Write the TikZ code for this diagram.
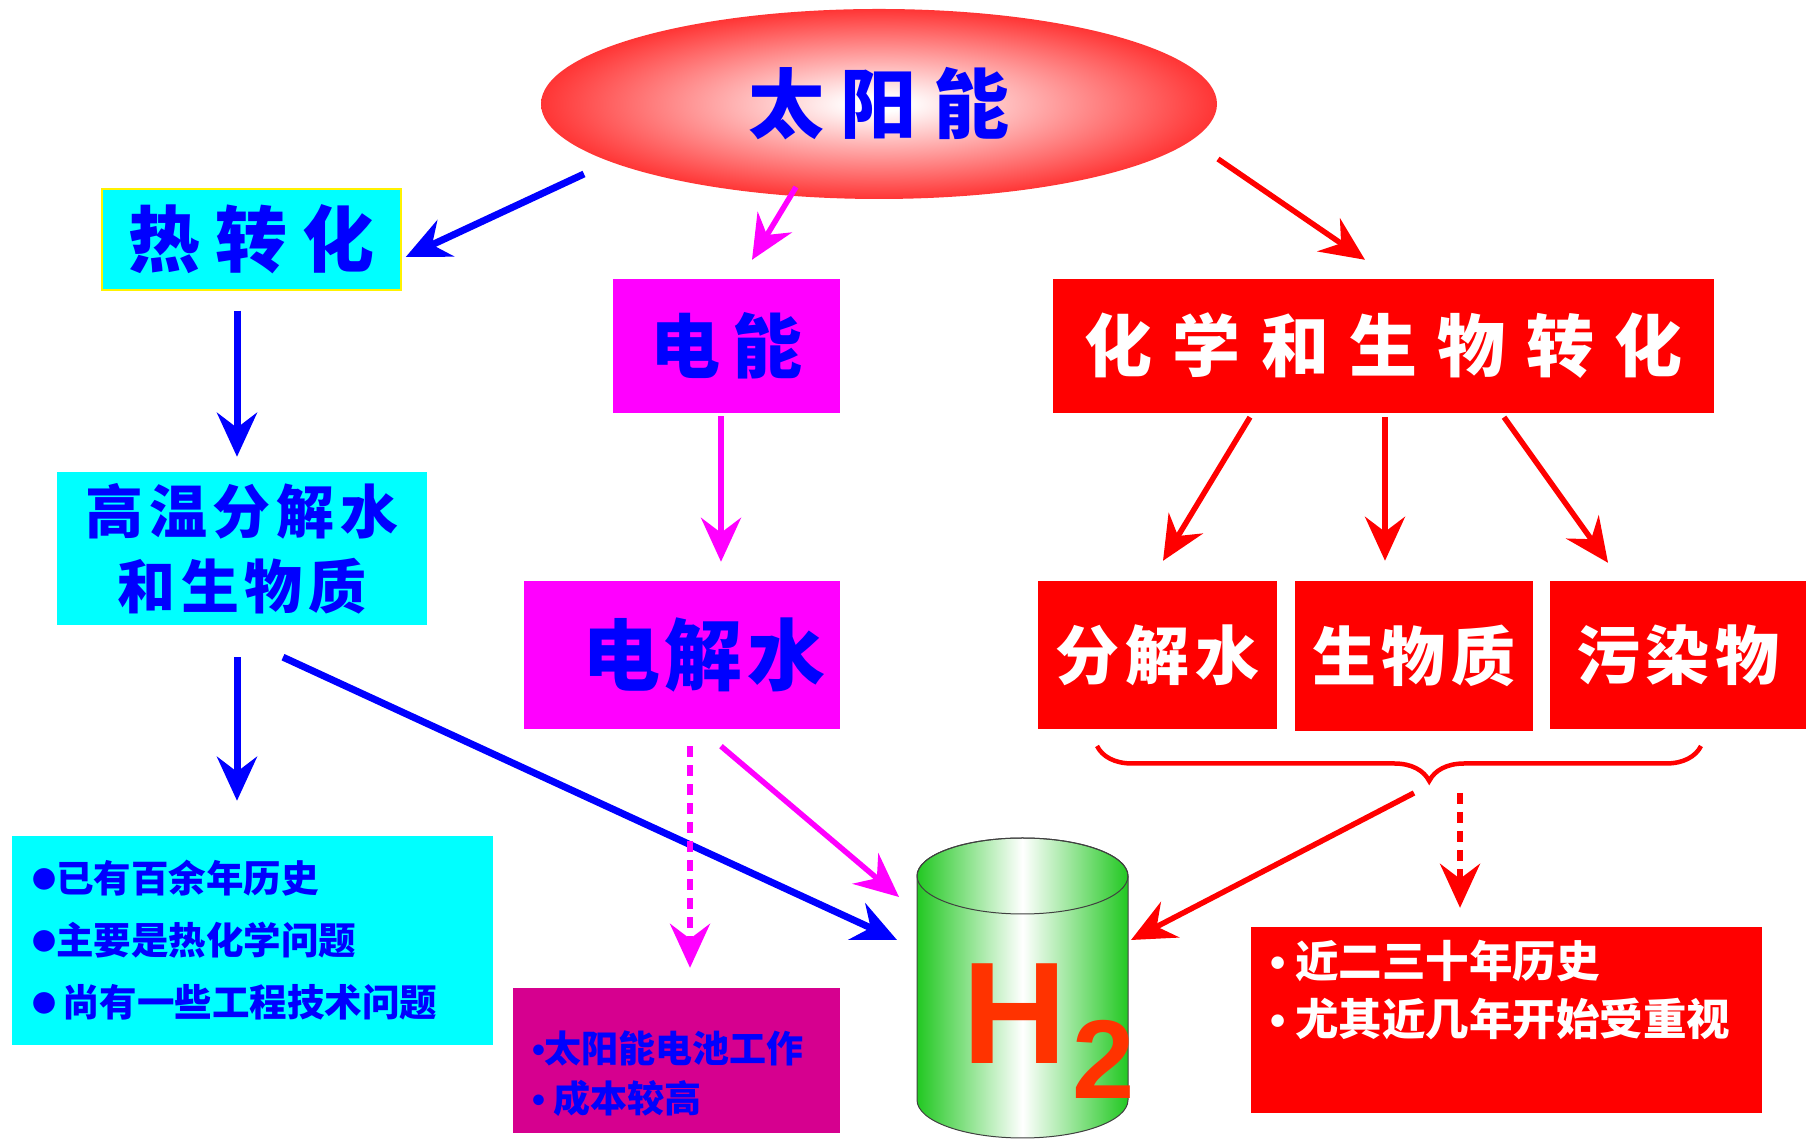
\documentclass[tikz,border=0pt]{standalone}
\usepackage{fontspec}
\setmainfont{Noto Sans CJK SC}
\newfontfamily\latin{Liberation Sans}
\usetikzlibrary{arrows.meta,shapes.geometric,decorations.pathreplacing,positioning}

\definecolor{aqua}{RGB}{0,255,255}
\definecolor{fuchsia}{RGB}{255,0,255}
\definecolor{plum}{RGB}{214,0,143}
\definecolor{tankgreen}{RGB}{34,200,34}
\definecolor{hcolor}{RGB}{255,51,0}

\newcommand\setfs[1]{\fontsize{#1}{#1}\selectfont}
\newcommand\spaced[1]{\addfontfeature{LetterSpace=#1}}
\newcommand\bigdot{\raisebox{4pt}{\setfs{24}●}}
\newcommand\smalldot{{\latin •}}

% white core fading out to red at the rim
\pgfdeclareradialshading{sunglow}{\pgfpoint{0bp}{0bp}}{%
  color(0bp)=(white); color(2bp)=(white); color(31bp)=(red); color(50bp)=(red)}

\tikzset{
sun/.style={
  ellipse,
  inner sep=0pt,
  minimum width=676pt,
  minimum height=190pt,
  shading=sunglow,
  text=blue,
  font=\bfseries\setfs{76}\spaced{22}},
box/.style={rectangle, inner sep=0pt, align=center},
bluebox/.style={box, fill=aqua, text=blue},
pinkbox/.style={box, fill=fuchsia, text=blue},
redbox/.style={box, fill=red, text=white},
note/.style={anchor=north west, inner sep=0pt, align=left},
line/.style={draw, line width=6pt, -{Stealth[length=44pt,width=40pt,inset=15pt]}},
dotline/.style={line, dash pattern=on 11pt off 8pt},
brace/.style={draw=red, line width=4.5pt,
  decorate, decoration={brace, amplitude=35pt, aspect=0.45}}
}

\begin{document}
\begin{tikzpicture}[x=1pt,y=1pt]
    \useasboundingbox (0,0) rectangle (1814,1139);

    \node [sun] (sun) at (879,1035) {太阳能};

    % thermal branch
    \node [bluebox, draw=yellow, line width=1.5pt, minimum width=299pt, minimum height=101pt,
      font=\bfseries\setfs{72}\spaced{21}] (heat) at (251.5,899.5) {热转化};
    \node [bluebox, minimum width=370pt, minimum height=153pt,
      font=\bfseries\fontsize{58}{75}\selectfont\spaced{10}] (htw) at (242,590.5) {高温分解水\\和生物质};
    \node [bluebox, minimum width=481pt, minimum height=209pt, text width=441pt, inner xsep=20pt,
      align=left, font=\bfseries\fontsize{37.5}{62}\selectfont] (hist) at (252.5,198.5)
      {\bigdot 已有百余年历史\\ \bigdot 主要是热化学问题\\ \bigdot\,尚有一些工程技术问题};

    % electric branch
    \node [pinkbox, minimum width=227pt, minimum height=134pt,
      font=\bfseries\setfs{70}\spaced{16}] (elec) at (726.5,793) {电能};
    \node [pinkbox, minimum width=316pt, minimum height=148pt,
      font=\bfseries\setfs{78}\spaced{6}] (eh2o) at (682,484) {\hspace*{44pt}电解水};
    \node [box, fill=plum, minimum width=327pt, minimum height=145pt] (cost) at (676.5,78.5) {};
    \node [note, text=blue, font=\bfseries\fontsize{37}{50}\selectfont] (costnote)
      at ([shift={(19,-42.5)}]cost.north west) {\smalldot 太阳能电池工作\\\smalldot\ 成本较高};

    % chemical and biological branch
    \node [redbox, minimum width=661pt, minimum height=134pt,
      font=\bfseries\setfs{68}\spaced{30}] (chem) at (1383.5,793) {化学和生物转化};
    \node [redbox, minimum width=239pt, minimum height=148pt,
      font=\bfseries\setfs{64}\spaced{9}] (split1) at (1157.5,484) {分解水};
    \node [redbox, minimum width=238pt, minimum height=150pt,
      font=\bfseries\setfs{64}\spaced{9}] (split2) at (1414,483) {生物质};
    \node [redbox, minimum width=256pt, minimum height=148pt,
      font=\bfseries\setfs{64}\spaced{9}] (split3) at (1678,484) {污染物};
    \node [redbox, minimum width=511pt, minimum height=186pt] (trend) at (1506.5,119) {};
    \node [note, text=white, font=\bfseries\fontsize{43.5}{58}\selectfont] (trendnote)
      at ([shift={(19,-13)}]trend.north west) {\smalldot\ 近二三十年历史\\\smalldot\ 尤其近几年开始受重视};

    \draw [brace] (1701,393) -- (1097,393);
    \coordinate (bracetip) at (1429,358);

    % hydrogen tank
    \coordinate (tank) at (1022.5,151);
    \path [left color=tankgreen, right color=tankgreen, middle color=white, draw=black!75, line width=1pt]
      (917,263) -- (917,39) arc [start angle=180, end angle=360, x radius=105.5, y radius=38]
      -- (1128,263) arc [start angle=0, end angle=180, x radius=105.5, y radius=38] -- cycle;
    \draw [black!75, line width=1pt] (1022.5,263) ellipse [x radius=105.5, y radius=38];
    \node [anchor=base west, inner sep=0pt, text=hcolor, font=\latin\bfseries\setfs{145}] (htwo)
      at (962,75) {H\kern6pt\raisebox{-35pt}{\setfs{112}2}};

    \path [line, blue, line width=7pt] ([shift={(-295,-70)}]sun.center) -- ([shift={(4,-17.5)}]heat.east);
    \path [line, fuchsia, line width=5.5pt] ([shift={(-83,-83)}]sun.center) -- ([shift={(25.5,19)}]elec.north);
    \path [line, red, line width=5.5pt] ([shift={(339,-55)}]sun.center) -- ([shift={(-18.5,19)}]chem.north);

    \path [line, blue, line width=7pt] ([shift={(-14.5,-20)}]heat.south) -- ([shift={(-5,15)}]htw.north);
    \path [line, blue, line width=7pt] ([shift={(-5,-32)}]htw.south) -- ([shift={(-15.5,35)}]hist.north);
    \path [line, blue, line width=7pt] ([shift={(41,-32)}]htw.south) -- ([shift={(-125.5,48)}]tank);

    \path [line, fuchsia, line width=5.5pt] ([shift={(-5.5,-3)}]elec.south) -- ([shift={(39,19)}]eh2o.north);
    \path [line, fuchsia, line width=5.5pt] ([shift={(39,-17)}]eh2o.south) -- ([shift={(-123.5,91)}]tank);
    \path [dotline, fuchsia, line width=5.5pt] ([shift={(8,-17)}]eh2o.south) -- ([shift={(13.5,20)}]cost.north);

    \path [line, red, line width=5.5pt] ([shift={(-133.5,-4)}]chem.south) -- ([shift={(5.5,20)}]split1.north);
    \path [line, red, line width=5.5pt] ([shift={(1.5,-4)}]chem.south) -- ([shift={(-29,20)}]split2.north);
    \path [line, red, line width=5.5pt] ([shift={(120.5,-4)}]chem.south) -- ([shift={(-70,18)}]split3.north);
    \path [line, red, line width=5.5pt] ([shift={(-15,-12)}]bracetip) -- ([shift={(108.5,48)}]tank);
    \path [dotline, red, line width=5.5pt] ([shift={(31,-12)}]bracetip) -- ([shift={(-46.5,19)}]trend.north);
\end{tikzpicture}
\end{document}
